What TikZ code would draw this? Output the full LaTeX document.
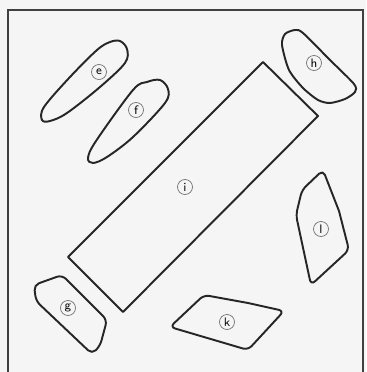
\documentclass[tikz,border=0pt]{standalone}
\usepackage{tikz}
\usetikzlibrary{positioning}

\begin{document}
\begin{tikzpicture}[
    x=0.02cm, y=-0.02cm,
    outline/.style={
        draw=black!85,
        line width=1.1pt,
        line join=round
    },
    tag/.style={
        circle,
        draw=black!55,
        line width=0.4pt,
        inner sep=0pt,
        minimum size=0.3cm,
        font=\sffamily\scriptsize
    }
]

\useasboundingbox[fill=black!4] (0,0) rectangle (366,372);

% --- Rahmen ---
\draw[line width=0.9pt, black!75] (8,372) -- (8,10) -- (363,10) -- (363,372);

% --- Grosses Rechteck in der Mitte ---
\draw[outline] (263,62) -- (318,116) -- (123,312) -- (68,257) -- cycle;
\node[tag] (labelI) at (185,187) {i};

% --- Schmale Formen oben links ---
\draw[outline] plot[smooth cycle, tension=0.55] coordinates {
    (42,120) (44,107) (70,77) (97,50) (110,42) (120,41)
    (127,49) (125,63) (100,87) (67,113) (50,121)};
\node[tag] (labelE) at (99,72) {e};

\draw[outline] plot[smooth cycle, tension=0.55] coordinates {
    (88,158) (96,141) (133,90) (147,82) (160,80)
    (168,89) (165,103) (133,137) (107,157) (93,163)};
\node[tag] (labelF) at (136,110) {f};

% --- Formen am Rand ---
\draw[outline] plot[smooth cycle, tension=0.45] coordinates {
    (282,45) (285,34) (295,30) (303,33) (330,60) (354,84)
    (355,92) (345,99) (330,103) (318,100) (303,88) (289,70)};
\node[tag] (labelH) at (314,63) {h};

\draw[outline, rounded corners=3pt]
    (339,211) -- (349,250) -- (311,285) -- (296,215) -- (302,190)
    -- (323,170) -- (339,211);
\node[tag] (labelL) at (321,229) {l};

\draw[outline, rounded corners=3pt]
    (248,303) -- (284,311) -- (248,350) -- (170,327) -- (204,295)
    -- (248,303);
\node[tag] (labelK) at (227,322) {k};

\draw[outline, rounded corners=3pt]
    (84,297) -- (107,320) -- (100,346) -- (92,354) -- (36,301)
    -- (34,285) -- (62,275) -- (84,297);
\node[tag] (labelG) at (68,308) {g};

\end{tikzpicture}
\end{document}
